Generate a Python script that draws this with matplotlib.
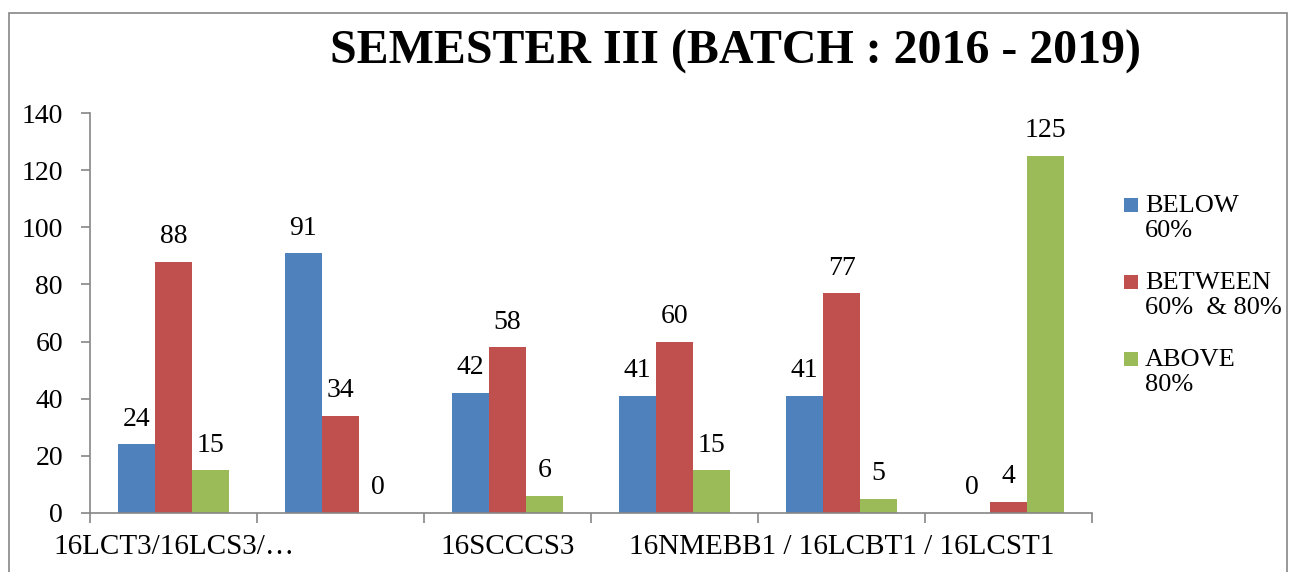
import matplotlib.pyplot as plt
import numpy as np
from matplotlib.patches import Rectangle

plt.rcParams["font.family"] = ["Liberation Serif", "DejaVu Serif"]

categories = ["16LCT3/16LCS3/\u2026", "", "16SCCCS3", "", "16NMEBB1 / 16LCBT1 / 16LCST1", ""]
below_60 = [24, 91, 42, 41, 41, 0]
between_60_80 = [88, 34, 58, 60, 77, 4]
above_80 = [15, 0, 6, 15, 5, 125]
series_names = ["BELOW\n60%", "BETWEEN\n60%  & 80%", "ABOVE\n80%"]
colors = ["#4F81BD", "#C0504D", "#9BBB59"]

W, H = 1295, 572
fig = plt.figure(figsize=(W / 100, H / 100), dpi=100)
ax = fig.add_axes([90 / W, 1 - 513 / H, 1002 / W, 400 / H])

x = np.arange(len(categories))
width = 0.222
for i, (vals, col) in enumerate(zip([below_60, between_60_80, above_80], colors)):
    bars = ax.bar(x + (i - 1) * width, vals, width, color=col)
    ax.bar_label(bars, padding=9, fontsize=20)

ax.set_xlim(-0.5, len(categories) - 0.5)
ax.set_ylim(0, 140)
ax.set_yticks(range(0, 141, 20))
ax.tick_params(axis="y", labelsize=20, color="#868686", length=6.5, width=1.2, pad=13)

ax.set_xticks(x)
ax.set_xticklabels(categories, fontsize=21)
ax.tick_params(axis="x", length=0, pad=15)
ax.set_xticks(np.arange(-0.5, len(categories)), minor=True)
ax.tick_params(axis="x", which="minor", length=7, color="#868686", width=1.2)

for side in ["top", "right"]:
    ax.spines[side].set_visible(False)
for side in ["left", "bottom"]:
    ax.spines[side].set_color("#868686")
    ax.spines[side].set_linewidth(1.2)

# legend drawn by hand so each square sits on the first text line
for i, (name, col) in enumerate(zip(series_names, colors)):
    yc = 205 + i * 77
    fig.patches.append(Rectangle((1124 / W, 1 - (yc + 7) / H), 14 / W, 14 / H,
                                 transform=fig.transFigure, facecolor=col, edgecolor="none"))
    fig.text(1145 / W, 1 - (yc - 10) / H, name, ha="left", va="top",
             fontsize=19, linespacing=1.2)

fig.text(736 / W, 1 - 52 / H, "SEMESTER III (BATCH : 2016 - 2019)", ha="center", va="center",
         fontsize=34.5, fontweight="bold")

fig.patches.append(Rectangle((9 / W, -0.02), 1278 / W, 1.02 - 13 / H,
                             transform=fig.transFigure, fill=False,
                             edgecolor="#868686", linewidth=1.2))

fig.savefig("out.png", dpi=100)
